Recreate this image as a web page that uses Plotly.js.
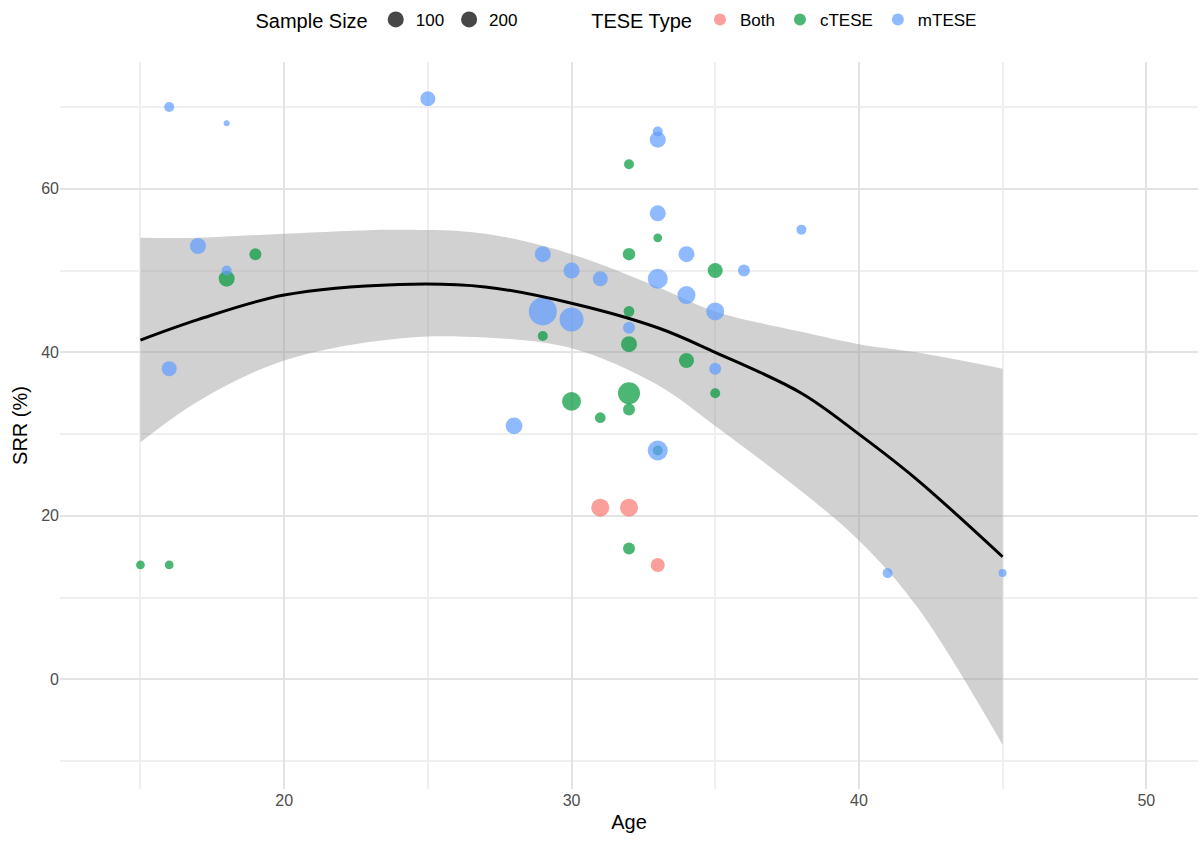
<!DOCTYPE html>
<html>
<head>
<meta charset="utf-8">
<script src="https://cdn.plot.ly/plotly-3.0.1.min.js"></script>
<style>body{margin:0;background:#fff}#chart{width:1200px;height:845px}</style>
</head>
<body>
<div id="chart"></div>
<script>
// studies
const mteseAge = [16,18,25,17,18,16,29,30,31,29,30,32,33,33,33,34,33,34,35,36,38,35,28,33,41,45];
const mteseSRR = [70,68,71,53,50,38,52,50,49,45,44,43,67,66,57,52,49,47,45,50,55,38,31,28,13,13];
const mteseN   = [39,14,88,100,39,88,100,100,88,306,225,56,39,100,100,100,156,127,127,56,39,56,110,156,39,25];

const cteseAge = [15,16,18,19,29,30,31,32,33,32,32,32,32,32,33,35,34,35,32];
const cteseSRR = [14,14,49,52,42,34,32,63,54,52,45,41,35,33,28,50,39,35,16];
const cteseN   = [30,30,100,56,39,140,45,39,30,60,45,100,190,56,39,88,88,39,56];

const bothAge = [31,32,33];
const bothSRR = [21,21,14];
const bothN   = [127,127,77];

// smoother and its band
const fitAge  = [15,17,20,24,27,30,33,35,38,40,42,45];
const fitMean = [41.5,44,47,48.3,48,46,43,40,35,30,24.5,15];
const fitHi   = [54,54,54.5,55,54.5,52,48,45,42.5,41,40,38];
const fitLo   = [29,34,39,41.7,41.8,40.5,36,31,23,17,9,-8];

const legendSizes = [100, 200];

function diam(n) { return n.map(v => 1.6 * Math.sqrt(v)); }

const data = [
  { x: fitAge, y: fitHi, mode: 'lines', line: {width: 0, shape: 'spline'}, showlegend: false, hoverinfo: 'skip' },
  { x: fitAge, y: fitLo, mode: 'lines', line: {width: 0, shape: 'spline'}, fill: 'tonexty',
    fillcolor: 'rgba(153,153,153,0.45)', showlegend: false, hoverinfo: 'skip' },
  { x: bothAge, y: bothSRR, mode: 'markers', name: 'Both', legend: 'legend',
    marker: {color: '#F8766D', opacity: 0.7, size: diam(bothN), line: {width: 0}} },
  { x: cteseAge, y: cteseSRR, mode: 'markers', name: 'cTESE', legend: 'legend',
    marker: {color: '#00993A', opacity: 0.7, size: diam(cteseN), line: {width: 0}} },
  { x: mteseAge, y: mteseSRR, mode: 'markers', name: 'mTESE', legend: 'legend',
    marker: {color: '#619CFF', opacity: 0.7, size: diam(mteseN), line: {width: 0}} },
  { x: fitAge, y: fitMean, mode: 'lines', line: {color: '#000', width: 3, shape: 'spline'}, showlegend: false }
];
legendSizes.forEach(s => data.push({
  x: [null], y: [null], mode: 'markers', name: String(s), legend: 'legend2',
  marker: {color: '#333', opacity: 0.9, size: diam([s])[0]}
}));

const layout = {
  width: 1200, height: 845,
  paper_bgcolor: '#fff', plot_bgcolor: '#fff',
  font: {family: 'Arial, Liberation Sans, sans-serif', size: 16, color: '#4d4d4d'},
  margin: {l: 60, r: 2, t: 55, b: 56},
  xaxis: {
    range: [12.2, 51.8], tickvals: [20, 30, 40, 50], zeroline: false,
    gridcolor: '#e3e3e3', gridwidth: 2, minor: {dtick: 5, gridcolor: '#efefef', showgrid: true},
    ticks: '', title: {text: 'Age', font: {size: 20, color: '#000'}, standoff: 6}
  },
  yaxis: {
    range: [-13.4, 75.5], tickvals: [0, 20, 40, 60], zeroline: false,
    gridcolor: '#e3e3e3', gridwidth: 2, minor: {dtick: 10, gridcolor: '#efefef', showgrid: true},
    ticks: '', title: {text: 'SRR (%)', font: {size: 20, color: '#000'}, standoff: 8}
  },
  legend2: {
    orientation: 'h', x: 0.17, y: 1.058, xanchor: 'left', yanchor: 'middle',
    title: {text: 'Sample Size', font: {size: 20, color: '#000'}},
    font: {size: 17, color: '#000'}, itemsizing: 'trace'
  },
  legend: {
    orientation: 'h', x: 0.465, y: 1.058, xanchor: 'left', yanchor: 'middle', traceorder: 'normal',
    title: {text: 'TESE Type', font: {size: 20, color: '#000'}},
    font: {size: 17, color: '#000'}, itemsizing: 'constant'
  },
  showlegend: true
};

Plotly.newPlot('chart', data, layout, {staticPlot: true, displayModeBar: false});
</script>
</body>
</html>
